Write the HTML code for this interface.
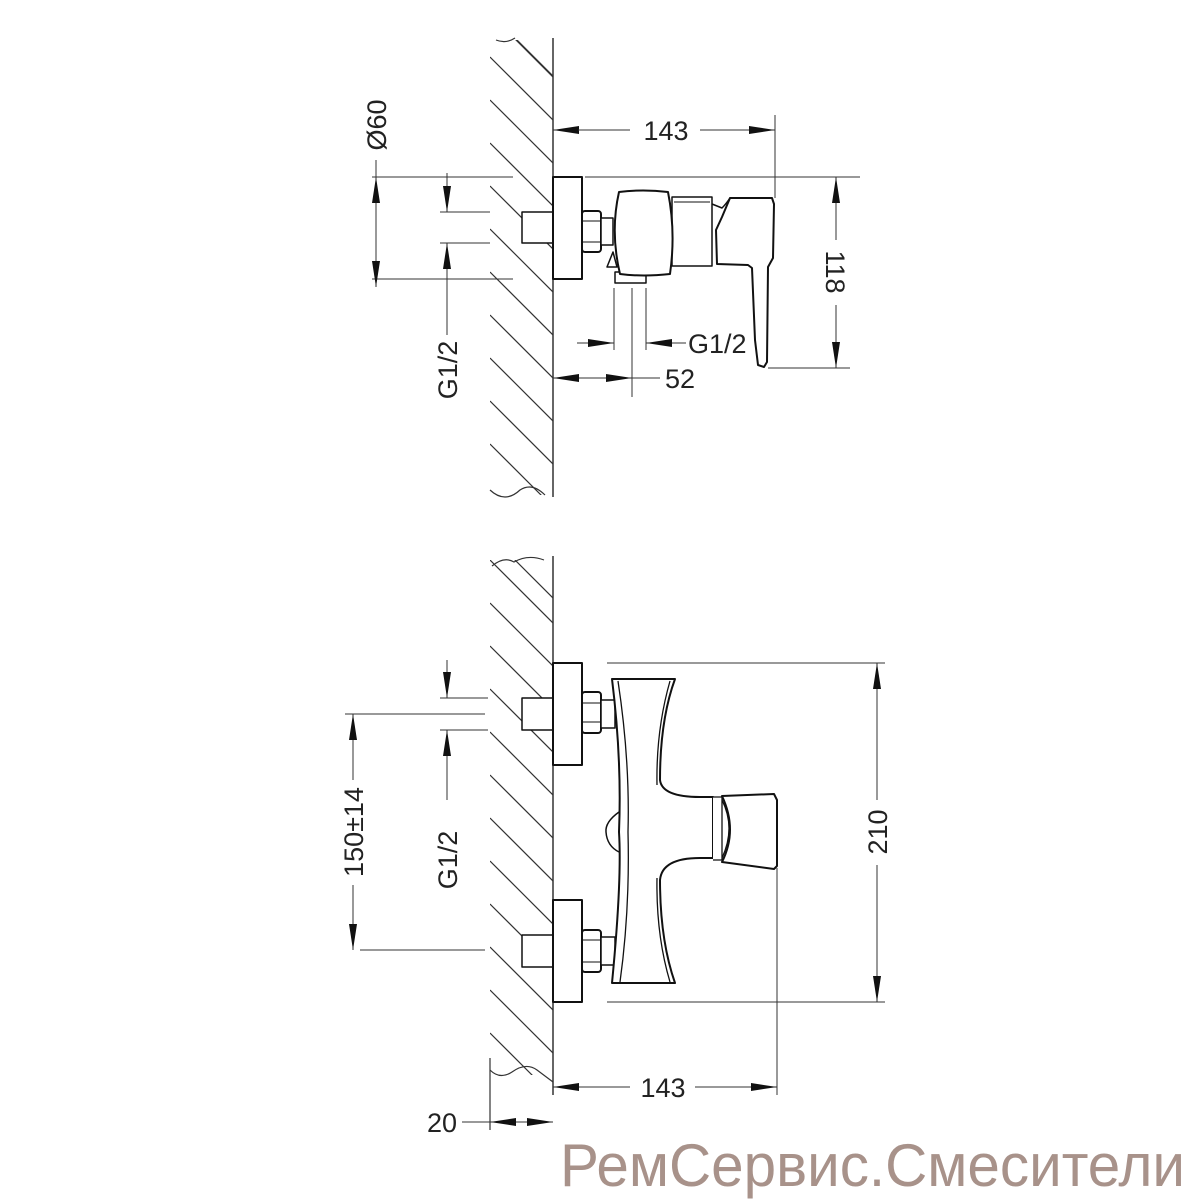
<!DOCTYPE html>
<html><head><meta charset="utf-8"><style>
html,body{margin:0;padding:0;background:#fff;}
svg{display:block;}
text{font-family:"Liberation Sans",sans-serif;font-size:27px;fill:#222;}
</style></head><body>
<svg width="1200" height="1200" viewBox="0 0 1200 1200" xmlns="http://www.w3.org/2000/svg">
<defs>
<clipPath id="c1"><rect x="490" y="40" width="63" height="455"/></clipPath>
<clipPath id="c2"><rect x="490" y="560" width="63" height="515"/></clipPath>
<marker id="a" viewBox="0 0 26 8" refX="26" refY="4" markerWidth="26" markerHeight="8" markerUnits="userSpaceOnUse" orient="auto"><path d="M0,0 L26,4 L0,8 Z" fill="#111"/></marker>
</defs>
<g stroke="#333" stroke-width="1.2" fill="none">
<g clip-path="url(#c1)">
<path d="M490,57 l80,80 M490,100 l80,80 M490,143 l80,80 M490,186 l80,80 M490,229 l80,80 M490,272 l80,80 M490,315 l80,80 M490,358 l80,80 M490,401 l80,80 M490,444 l80,80 M515,38 l60,60 M490,14 l80,80"/>
</g>
<path d="M496,40 q10,4 19,-2"/>
<path d="M490,490 q15,14 30,0 q12,-8 25,5"/>
<line x1="553" y1="38" x2="553" y2="497" stroke-width="1.5"/>
<g clip-path="url(#c2)">
<path d="M490,560 l80,80 M490,603 l80,80 M490,646 l80,80 M490,689 l80,80 M490,732 l80,80 M490,775 l80,80 M490,818 l80,80 M490,861 l80,80 M490,904 l80,80 M490,947 l80,80 M490,990 l80,80 M490,1033 l80,80 M510,555 l60,60"/>
</g>
<path d="M492,566 q12,-10 22,-4 q14,-8 30,-2"/>
<path d="M490,1070 q10,10 22,2 q14,-10 25,-2 l16,12"/>
<line x1="553" y1="556" x2="553" y2="1095" stroke-width="1.5"/>
<line x1="490" y1="1058" x2="490" y2="1130"/>
</g>

<g stroke="#111" stroke-width="2" fill="#fff" stroke-linejoin="round">
<rect x="522" y="212" width="31" height="31" stroke-width="1.5"/>
<rect x="553" y="177" width="29" height="102"/>
<rect x="582" y="211" width="19" height="41" rx="3"/>
<line x1="583" y1="221" x2="600" y2="221" stroke-width="1"/>
<line x1="583" y1="242" x2="600" y2="242" stroke-width="1"/>
<rect x="601" y="218" width="12" height="27" stroke-width="1.5"/>
<path d="M607,267 L613,252 L617,267 Z" stroke-width="1.5"/>
<rect x="615" y="272" width="31" height="11" stroke-width="1.5"/>
<rect x="672" y="197" width="40" height="69" stroke-width="1.5"/>
<line x1="674" y1="202" x2="710" y2="202" stroke-width="1"/>
<path d="M619,192 Q643,189 668,192 Q676,232 670,274 Q643,277 620,274 Q610,232 619,192 Z"/>
<path d="M712,204 L722,208 Q726,204 730,198" fill="none" stroke-width="1.5"/>
<path d="M730,198 L772,198 L774,204 L773,258 L768,267 L767,362 L764,367 L758,365 L755,340 L752,268 L748,265 L717,264 L716,230 L722,217 Z"/>
</g>

<g stroke="#111" stroke-width="2" fill="#fff" stroke-linejoin="round">
<rect x="522" y="698" width="31" height="32" stroke-width="1.5"/>
<rect x="553" y="663" width="29" height="102"/>
<rect x="582" y="692" width="19" height="41" rx="3"/>
<line x1="583" y1="703" x2="600" y2="703" stroke-width="1"/>
<line x1="583" y1="722" x2="600" y2="722" stroke-width="1"/>
<rect x="601" y="700" width="14" height="28" stroke-width="1.5"/>
<rect x="522" y="935" width="31" height="32" stroke-width="1.5"/>
<rect x="553" y="900" width="29" height="102"/>
<rect x="582" y="930" width="19" height="42" rx="3"/>
<line x1="583" y1="940" x2="600" y2="940" stroke-width="1"/>
<line x1="583" y1="962" x2="600" y2="962" stroke-width="1"/>
<rect x="601" y="937" width="14" height="28" stroke-width="1.5"/>
<path d="M619,812 Q605,822 606,832 Q607,846 619,852" stroke-width="1.5"/>
<path d="M612,679 L675,679 Q660,720 660,780 Q662,797 700,797 L713,797 L713,858 L700,858 Q662,858 660,880 Q660,940 675,983 L612,983 Q622,880 619,832 Q622,760 612,679 Z"/>
<path d="M618,681 Q630,760 628,832 Q630,910 620,982" fill="none" stroke-width="1.3"/>
<path d="M670,681 Q656,730 657,785" fill="none" stroke-width="1.3"/>
<path d="M657,878 Q656,935 670,982" fill="none" stroke-width="1.3"/>
<path d="M713,797 L722,797 L722,860 L713,860" stroke-width="1.3"/>
<path d="M722,800 Q736,828 722,858" fill="none" stroke-width="1.3"/>
<path d="M722,796 L774,794 L777,800 L777,866 L774,869 L722,862 Q738,830 722,796 Z"/>
</g>

<g stroke="#333" stroke-width="1" fill="none">
<line x1="775" y1="115" x2="775" y2="198"/>
<line x1="578" y1="130" x2="553" y2="130" marker-end="url(#a)"/>
<line x1="700" y1="130" x2="775" y2="130" marker-end="url(#a)"/>
<line x1="578" y1="130" x2="630" y2="130"/>
<line x1="585" y1="177" x2="860" y2="177"/>
<line x1="768" y1="368" x2="850" y2="368"/>
<line x1="836" y1="240" x2="836" y2="177" marker-end="url(#a)"/>
<line x1="836" y1="305" x2="836" y2="368" marker-end="url(#a)"/>
<line x1="372" y1="177" x2="513" y2="177"/>
<line x1="372" y1="279" x2="513" y2="279"/>
<line x1="376" y1="160" x2="376" y2="177"/>
<line x1="376" y1="228" x2="376" y2="177" marker-end="url(#a)"/>
<line x1="376" y1="228" x2="376" y2="287" marker-end="url(#a)"/>
<line x1="440" y1="212" x2="490" y2="212"/>
<line x1="440" y1="243" x2="490" y2="243"/>
<line x1="447" y1="173" x2="447" y2="212" marker-end="url(#a)"/>
<line x1="447" y1="335" x2="447" y2="243" marker-end="url(#a)"/>
<line x1="614" y1="288" x2="614" y2="350"/>
<line x1="646" y1="288" x2="646" y2="350"/>
<line x1="577" y1="343" x2="614" y2="343" marker-end="url(#a)"/>
<line x1="686" y1="343" x2="646" y2="343" marker-end="url(#a)"/>
<line x1="632" y1="288" x2="632" y2="397"/>
<line x1="590" y1="378" x2="553" y2="378" marker-end="url(#a)"/>
<line x1="590" y1="378" x2="632" y2="378" marker-end="url(#a)"/>
<line x1="632" y1="378" x2="660" y2="378"/>
<line x1="607" y1="663" x2="885" y2="663"/>
<line x1="607" y1="1002" x2="885" y2="1002"/>
<line x1="877" y1="800" x2="877" y2="663" marker-end="url(#a)"/>
<line x1="877" y1="865" x2="877" y2="1002" marker-end="url(#a)"/>
<line x1="345" y1="714" x2="485" y2="714"/>
<line x1="360" y1="950" x2="485" y2="950"/>
<line x1="353" y1="780" x2="353" y2="714" marker-end="url(#a)"/>
<line x1="353" y1="885" x2="353" y2="950" marker-end="url(#a)"/>
<line x1="440" y1="698" x2="488" y2="698"/>
<line x1="440" y1="730" x2="488" y2="730"/>
<line x1="447" y1="660" x2="447" y2="698" marker-end="url(#a)"/>
<line x1="447" y1="800" x2="447" y2="730" marker-end="url(#a)"/>
<line x1="777" y1="868" x2="777" y2="1095"/>
<line x1="630" y1="1087" x2="553" y2="1087" marker-end="url(#a)"/>
<line x1="695" y1="1087" x2="777" y2="1087" marker-end="url(#a)"/>
<line x1="462" y1="1122" x2="490" y2="1122"/>
<line x1="521" y1="1122" x2="490" y2="1122" marker-end="url(#a)"/>
<line x1="521" y1="1122" x2="553" y2="1122" marker-end="url(#a)"/>
</g>

<g>
<text x="666" y="140" text-anchor="middle">143</text>
<text x="0" y="0" text-anchor="middle" transform="translate(826,272) rotate(90)">118</text>
<text x="0" y="0" text-anchor="middle" transform="translate(386,125) rotate(-90)">Ø60</text>
<text x="0" y="0" text-anchor="middle" transform="translate(457,370) rotate(-90)">G1/2</text>
<text x="688" y="353">G1/2</text>
<text x="665" y="388">52</text>
<text x="0" y="0" text-anchor="middle" transform="translate(887,832) rotate(-90)">210</text>
<text x="0" y="0" text-anchor="middle" transform="translate(363,832) rotate(-90)">150±14</text>
<text x="0" y="0" text-anchor="middle" transform="translate(457,860) rotate(-90)">G1/2</text>
<text x="663" y="1097" text-anchor="middle">143</text>
<text x="427" y="1132">20</text>
<text x="560" y="1186" textLength="625" lengthAdjust="spacingAndGlyphs" style="font-size:60px;fill:#a8928a;">РемСервис.Смесители</text>
</g>
</svg>
</body></html>
